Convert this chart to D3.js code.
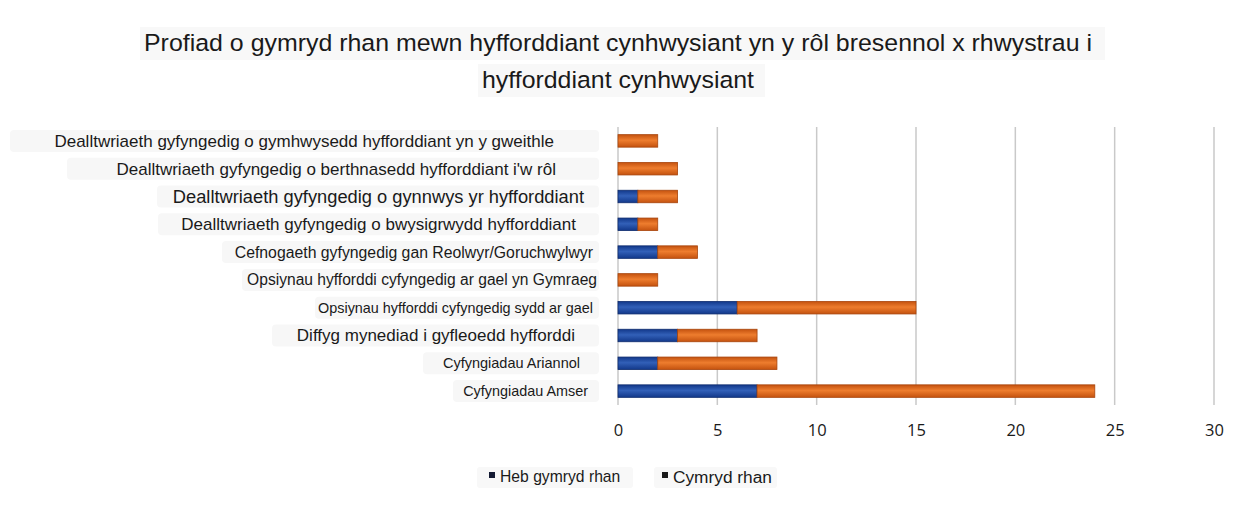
<!DOCTYPE html>
<meta charset="utf-8">
<script src="https://d3js.org/d3.v7.min.js"></script>
<style>
  body { margin: 0; background: #fff; }
  text { font-family: "Liberation Sans", Arial, sans-serif; fill: #1a1a1a; }
</style>
<div id="chart"></div>
<script>
  // data, top row first
  const categories = [
    "Dealltwriaeth gyfyngedig o gymhwysedd hyfforddiant yn y gweithle",
    "Dealltwriaeth gyfyngedig o berthnasedd hyfforddiant i'w rôl",
    "Dealltwriaeth gyfyngedig o gynnwys yr hyfforddiant",
    "Dealltwriaeth gyfyngedig o bwysigrwydd hyfforddiant",
    "Cefnogaeth gyfyngedig gan Reolwyr/Goruchwylwyr",
    "Opsiynau hyfforddi cyfyngedig ar gael yn Gymraeg",
    "Opsiynau hyfforddi cyfyngedig sydd ar gael",
    "Diffyg mynediad i gyfleoedd hyfforddi",
    "Cyfyngiadau Ariannol",
    "Cyfyngiadau Amser"
  ]
  const hebGymryd = [0, 0, 1, 1, 2, 0, 6, 3, 2, 7]
  const cymryd = [2, 3, 2, 1, 2, 2, 9, 4, 6, 17]
  const seriesNames = ["Heb gymryd rhan", "Cymryd rhan"]
  const xTicks = [0, 5, 10, 15, 20, 25, 30]
  const titleLines = [
    "Profiad o gymryd rhan mewn hyfforddiant cynhwysiant yn y rôl bresennol x rhwystrau i",
    "hyfforddiant cynhwysiant"
  ]

  // the labels in the picture are pasted in at mixed sizes and offsets
  const labelSize = [17, 17, 18.3, 17, 15.8, 15.6, 14.4, 17, 14.5, 14.4]
  const labelEnd = [554, 556, 584, 576, 593, 597, 593, 575, 580, 588]
  const labelBoxLeft = [10, 67, 157, 158, 222, 242, 315, 272, 423, 453]

  const W = 1246, H = 506

  const svg = d3.select("#chart").append("svg")
    .attr("width", W).attr("height", H)

  const defs = svg.append("defs")
  function grad(id, edge, mid) {
    const g = defs.append("linearGradient").attr("id", id)
      .attr("x1", 0).attr("y1", 0).attr("x2", 0).attr("y2", 1)
    g.append("stop").attr("offset", "0%").attr("stop-color", edge)
    g.append("stop").attr("offset", "45%").attr("stop-color", mid)
    g.append("stop").attr("offset", "100%").attr("stop-color", edge)
  }
  grad("gBlue", "#12388a", "#3260b8")
  grad("gOrange", "#c4520f", "#ee7d2e")
  const fills = ["url(#gBlue)", "url(#gOrange)"]
  const strokes = ["#0e2c6e", "#a8450c"]

  const x = d3.scaleLinear().domain([0, 30]).range([618, 1214])
  const y = d3.scaleBand().domain(categories).range([127, 405])
    .paddingInner(0.55).paddingOuter(0.275)

  // title, each line on its own faint box
  const titleBox = [[140, 27, 965, 33], [478, 64, 287, 33]]
  const titleWidth = [948, 272]
  titleLines.forEach(function (t, i) {
    svg.append("rect")
      .attr("x", titleBox[i][0]).attr("y", titleBox[i][1])
      .attr("width", titleBox[i][2]).attr("height", titleBox[i][3])
      .attr("fill", "#f8f8f8")
    svg.append("text")
      .attr("x", 618 - titleWidth[i] / 2).attr("y", 51 + i * 37)
      .attr("textLength", titleWidth[i])
      .attr("lengthAdjust", "spacingAndGlyphs")
      .style("font-size", "24.5px")
      .text(t)
  })

  // gridlines
  svg.append("g")
    .selectAll("line")
    .data(xTicks)
    .join("line")
    .attr("x1", d => x(d)).attr("x2", d => x(d))
    .attr("y1", 127).attr("y2", 405)
    .attr("stroke", "#c9c9c9")
    .attr("stroke-width", 1.5)

  // x axis
  const xAxis = svg.append("g")
    .attr("transform", "translate(0,418)")
    .call(d3.axisBottom(x).tickValues(xTicks).tickSize(0).tickPadding(6))
  xAxis.select(".domain").remove()
  xAxis.selectAll("text")
    .style("font-size", "16.5px")
    .style("font-family", "'Open Sans', 'Liberation Sans', sans-serif")
    .attr("fill", "#1a1a1a")

  // stacked data
  const rows = categories.map((c, i) => ({ cat: c, v: [hebGymryd[i], cymryd[i]] }))
  const segs = []
  rows.forEach(function (r) {
    let acc = 0
    r.v.forEach(function (v, k) {
      if (v > 0) segs.push({ cat: r.cat, k: k, x0: acc, x1: acc + v })
      acc += v
    })
  })

  svg.append("g")
    .selectAll("rect")
    .data(segs)
    .join("rect")
    .attr("x", d => x(d.x0))
    .attr("y", d => y(d.cat))
    .attr("width", d => x(d.x1) - x(d.x0))
    .attr("height", y.bandwidth())
    .attr("fill", d => fills[d.k])
    .attr("stroke", d => strokes[d.k])
    .attr("stroke-width", 0.8)

  // category labels with faint backing boxes
  const labG = svg.append("g")
  categories.forEach(function (c, i) {
    const cy = y(c) + y.bandwidth() / 2
    labG.append("rect")
      .attr("x", labelBoxLeft[i]).attr("y", cy - 11)
      .attr("width", 599 - labelBoxLeft[i]).attr("height", 22)
      .attr("rx", 4)
      .attr("fill", "#f7f7f7")
    labG.append("text")
      .attr("x", labelEnd[i])
      .attr("y", cy)
      .attr("dy", "0.35em")
      .attr("text-anchor", "end")
      .style("font-size", labelSize[i] + "px")
      .text(c)
  })

  // legend
  const legX = [489, 662]
  const legSize = [15.7, 17.3]
  const legBox = [[477, 156], [654, 123]]
  seriesNames.forEach(function (s, i) {
    svg.append("rect")
      .attr("x", legBox[i][0]).attr("y", 467)
      .attr("width", legBox[i][1]).attr("height", 21)
      .attr("rx", 3)
      .attr("fill", "#f8f8f8")
    svg.append("rect")
      .attr("x", legX[i]).attr("y", 472)
      .attr("width", 6).attr("height", 6)
      .attr("fill", i === 0 ? "#141a33" : "#1a1a1a")
    svg.append("text")
      .attr("x", legX[i] + 11).attr("y", 477)
      .attr("dy", "0.35em")
      .style("font-size", legSize[i] + "px")
      .text(s)
  })
</script>
